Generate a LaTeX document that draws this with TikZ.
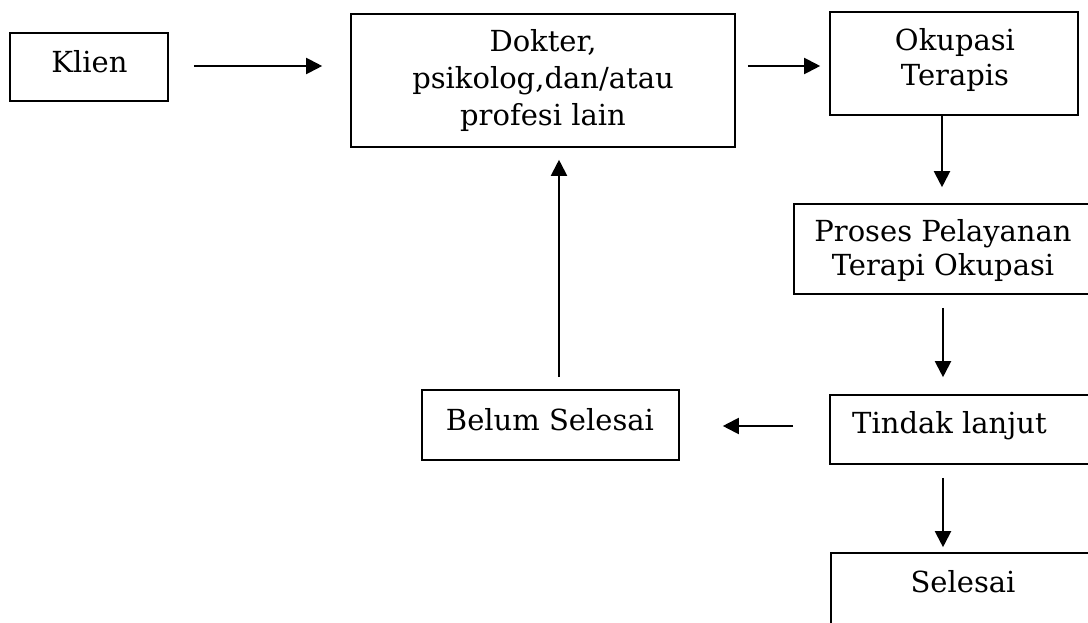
\documentclass[tikz,border=0pt]{standalone}
\usepackage{fontspec}
\setmainfont{DejaVu Serif}
\usetikzlibrary{arrows.meta,calc}
\begin{document}
\begin{tikzpicture}[x=1pt,y=-1pt,
  box/.style={draw,line width=1.6pt,inner sep=0pt},
  txt/.style={font=\fontsize{29}{37}\selectfont,inner sep=0pt,align=center},
  arr/.style={line width=2pt,-{Triangle[length=16pt,width=16pt]}}]
\useasboundingbox (0,0) rectangle (1088,623);
% boxes
\node[box,minimum width=158pt,minimum height=68pt] (klien) at (89,67) {};
\node[box,minimum width=384pt,minimum height=133pt] (dokter) at (543,80.5) {};
\node[box,minimum width=248pt,minimum height=103pt] (okupasi) at (954,63.5) {};
\node[box,minimum width=306pt,minimum height=90pt] (proses) at (947,249) {};
\node[box,minimum width=257pt,minimum height=70pt] (belum) at (550.5,425) {};
\node[box,minimum width=270pt,minimum height=69pt] (tindak) at (965,429.5) {};
\node[box,minimum width=269pt,minimum height=107pt] (selesai) at (965.5,606.5) {};
% texts
\node[txt,anchor=base] (tklien) at (89.5,73) {Klien};
\node[txt] (tdokter) at (543,80.5) {Dokter,\\psikolog,dan/atau\\profesi lain};
\node[txt,font=\fontsize{29}{35}\selectfont] (tokupasi) at (955,60) {Okupasi\\Terapis};
\node[txt,font=\fontsize{29}{34}\selectfont] (tproses) at (943,250) {Proses Pelayanan\\Terapi Okupasi};
\node[txt,anchor=base] (tbelum) at (550,430) {Belum Selesai};
\node[txt,anchor=base west] (ttindak) at (852,433) {Tindak lanjut};
\node[txt,anchor=base] (tselesai) at (963,592) {Selesai};
% connectors
\draw[arr] ($(klien.east)+(25,-1)$) -- ($(klien.east -| dokter.west)+(-28,-1)$);
\draw[arr] ($(dokter.east |- 0,66)+(12,0)$) -- ($(okupasi.west |- 0,66)+(-9,0)$);
\draw[arr] (okupasi.south -| 942,0) -- ($(proses.north -| 942,0)+(0,-16)$);
\draw[arr] ($(proses.south -| 943,0)+(0,13)$) -- ($(tindak.north -| 943,0)+(0,-17)$);
\draw[arr] ($(tindak.west |- 0,426)+(-36,0)$) -- ($(belum.east |- 0,426)+(43,0)$);
\draw[arr] ($(belum.north -| 559,0)+(0,-12)$) -- ($(dokter.south -| 559,0)+(0,12)$);
\draw[arr] ($(tindak.south -| 943,0)+(0,13)$) -- ($(selesai.north -| 943,0)+(0,-5)$);
\end{tikzpicture}
\end{document}
